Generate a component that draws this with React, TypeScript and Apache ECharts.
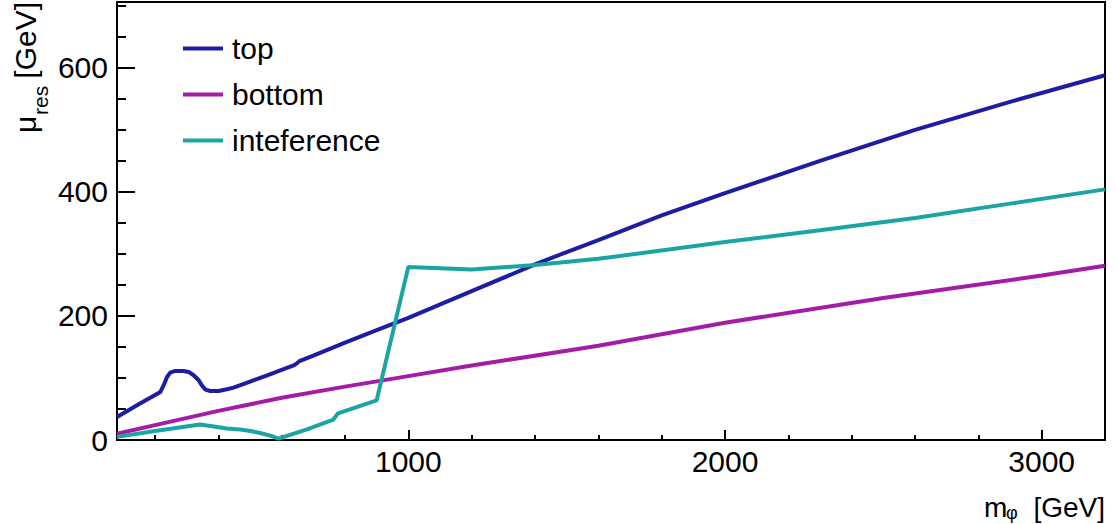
import { useEffect, useRef } from "react";
import * as echarts from "echarts";

const FONT = "'Liberation Sans', Arial, Helvetica, sans-serif";

// Resonance mass m_phi [GeV] and mu_res [GeV] for each contribution
const massTop = [80, 150, 217, 227, 238, 248, 264, 290, 306, 322, 338, 348, 359, 375, 401, 427, 448, 500, 550, 600, 640, 656, 700, 800, 900, 1000, 1200, 1400, 1500, 1600, 1800, 2000, 2300, 2600, 2900, 3200];
const muTop = [37, 58, 77.4, 88, 101.6, 108.7, 111.3, 111.3, 109.7, 104.4, 96.3, 88, 81.3, 79, 79, 81.8, 84.5, 94, 103.5, 113, 120.5, 127, 136, 157, 177, 197, 240, 283, 303, 322, 362, 398, 450, 500, 545, 588];

const massBottom = [80, 200, 400, 600, 800, 1000, 1200, 1500, 1600, 2000, 2500, 3000, 3200];
const muBottom = [10, 24, 47, 68, 86, 103, 120, 144, 152, 189, 229, 265, 281];

const massInterference = [80, 200, 342, 375, 427, 469, 501, 532, 564, 590, 680, 763, 778, 900, 1000, 1200, 1400, 1600, 2000, 2300, 2600, 2900, 3200];
const muInterference = [5, 14.5, 25, 22.6, 18.4, 16.8, 14.5, 11.3, 7.1, 2.3, 17, 33, 43, 64, 279, 275, 282, 292, 319, 338, 358, 381, 404];

const seriesNames = ["top", "bottom", "inteference"];
const seriesColors = ["#1c1ca4", "#a41ca6", "#1ca4a4"];

// Axis ranges and tick marks
const xMin = 80;
const xMax = 3200;
const yMin = 0;
const yMax = 706;
const xMajorTicks = [1000, 2000, 3000];
const xMinorTicks = [200, 400, 600, 800, 1200, 1400, 1600, 1800, 2200, 2400, 2600, 2800];
const yMajorTicks = [0, 200, 400, 600];
const yMinorTicks = [50, 100, 150, 250, 300, 350, 450, 500, 550, 650, 700];

const zip = (xs: number[], ys: number[]) => xs.map((x, i) => [x, ys[i]]);

export default function App() {
  const ref = useRef<HTMLDivElement>(null);

  useEffect(() => {
    document.body.style.margin = "0";
    if (!ref.current) return;
    const chart = echarts.init(ref.current, null, { renderer: "svg" });

    const tickLine = { color: "#000", width: 2 };
    const gridBox = { left: 117, right: 11, top: 2, bottom: 84 };
    const plain = (v: number) => String(v);

    const option: any = {
      animation: false,
      backgroundColor: "#fff",
      grid: [
        { ...gridBox, show: true, borderColor: "#000", borderWidth: 2, backgroundColor: "transparent" },
        { ...gridBox, show: false },
      ],
      legend: {
        orient: "vertical",
        left: 183,
        top: 33,
        padding: 0,
        icon: "rect",
        itemWidth: 40,
        itemHeight: 4,
        itemGap: 15,
        data: seriesNames,
        textStyle: { fontSize: 30, fontFamily: FONT, color: "#000", lineHeight: 31, padding: [0, 0, 0, 4] },
      },
      xAxis: [
        {
          type: "value",
          gridIndex: 0,
          min: xMin,
          max: xMax,
          position: "bottom",
          axisLine: { show: true, lineStyle: tickLine },
          axisTick: { show: true, inside: true, length: 10, lineStyle: tickLine, customValues: xMajorTicks },
          axisLabel: { customValues: xMajorTicks, formatter: plain, fontSize: 30, fontFamily: FONT, color: "#000", margin: 6 },
          splitLine: { show: false },
        },
        {
          type: "value",
          gridIndex: 1,
          min: xMin,
          max: xMax,
          position: "bottom",
          axisLine: { show: false },
          axisTick: { show: true, inside: true, length: 5, lineStyle: tickLine, customValues: xMinorTicks },
          axisLabel: { show: false },
          splitLine: { show: false },
        },
      ],
      yAxis: [
        {
          type: "value",
          gridIndex: 0,
          min: yMin,
          max: yMax,
          position: "left",
          axisLine: { show: true, lineStyle: tickLine },
          axisTick: { show: true, inside: true, length: 18, lineStyle: tickLine, customValues: yMajorTicks },
          axisLabel: { customValues: yMajorTicks, formatter: plain, fontSize: 30, fontFamily: FONT, color: "#000", margin: 9 },
          splitLine: { show: false },
        },
        {
          type: "value",
          gridIndex: 1,
          min: yMin,
          max: yMax,
          position: "left",
          axisLine: { show: false },
          axisTick: { show: true, inside: true, length: 9, lineStyle: tickLine, customValues: yMinorTicks },
          axisLabel: { show: false },
          splitLine: { show: false },
        },
      ],
      series: [
        zip(massTop, muTop),
        zip(massBottom, muBottom),
        zip(massInterference, muInterference),
      ].map((data, i) => ({
        name: seriesNames[i],
        type: "line",
        xAxisIndex: 0,
        yAxisIndex: 0,
        data,
        showSymbol: false,
        symbol: "none",
        color: seriesColors[i],
        lineStyle: { width: 4, color: seriesColors[i] },
        z: 3 + i,
      })),
      graphic: [
        // x-axis title: m_phi [GeV]
        {
          type: "text",
          right: 11,
          top: 493,
          style: { text: "[GeV]", fontSize: 28, fontFamily: FONT, fill: "#000" },
        },
        {
          type: "text",
          left: 984,
          top: 493,
          style: { text: "m", fontSize: 28, fontFamily: FONT, fill: "#000" },
        },
        {
          type: "text",
          left: 1006,
          top: 504,
          style: { text: "φ", fontSize: 18, fontFamily: FONT, fill: "#000" },
        },
        // y-axis title: mu_res [GeV], reading bottom to top
        {
          type: "group",
          x: 36,
          y: 133,
          rotation: Math.PI / 2,
          children: [
            {
              type: "text",
              x: 0,
              y: -11,
              style: { text: "μ", fontSize: 30, fontFamily: FONT, fill: "#000", align: "left", verticalAlign: "middle" },
            },
            {
              type: "text",
              x: 18,
              y: 4,
              style: { text: "res", fontSize: 21, fontFamily: FONT, fill: "#000", align: "left", verticalAlign: "middle" },
            },
            {
              type: "text",
              x: 131,
              y: -11,
              style: { text: "[GeV]", fontSize: 30, fontFamily: FONT, fill: "#000", align: "right", verticalAlign: "middle" },
            },
          ],
        },
      ],
    };

    chart.setOption(option);
    return () => chart.dispose();
  }, []);

  return <div ref={ref} style={{ width: 1116, height: 524 }} />;
}
